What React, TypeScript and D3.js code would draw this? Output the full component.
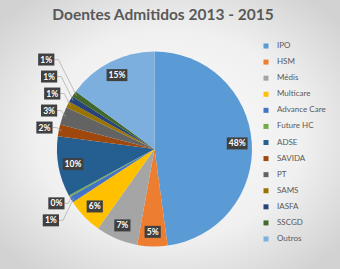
import React from 'react';
import * as d3 from 'd3';

const categories = ['IPO', 'HSM', 'Médis', 'Multicare', 'Advance Care', 'Future HC', 'ADSE', 'SAVIDA', 'PT', 'SAMS', 'IASFA', 'SSCGD', 'Outros'];
const shares = [48, 5, 7, 6, 1, 0.3, 10, 2, 3, 1, 1, 1, 15];
const colors = ['#5B9BD5', '#ED7D31', '#A5A5A5', '#FFC000', '#4472C4', '#70AD47', '#255E91', '#9E480E', '#636363', '#997300', '#264478', '#43682B', '#7CAFDD'];
const title = 'Doentes Admitidos 2013 - 2015';

const W = 340;
const H = 269;

const App = () => {
  const cx = 154.5;
  const cy = 149;
  const r = 97.5;
  const total = d3.sum(shares);
  const pct = (v: number) => Math.round((v / total) * 100);

  const arcs = d3.pie<number>().sort(null).value(d => d)(shares);
  const arc = d3.arc<d3.PieArcDatum<number>>().innerRadius(0).outerRadius(r);
  const inLabel = d3.arc<d3.PieArcDatum<number>>().innerRadius(r * 0.85).outerRadius(r * 0.85);
  const outLabel = d3.arc<d3.PieArcDatum<number>>().innerRadius(r * 1.15).outerRadius(r * 1.15);
  const rim = d3.arc<d3.PieArcDatum<number>>().innerRadius(r * 0.97).outerRadius(r * 0.97);

  const gap = 17;
  const labels = arcs.map((a, i) => {
    const small = pct(a.data) < 4;
    const [x, y] = (small ? outLabel : inLabel).centroid(a);
    return { i, small, x, y, baseX: x, baseY: y };
  });

  // outside labels: upper half pushed up, lower half pushed down
  const upper = labels.filter(l => l.small && l.baseY < 0).sort((a, b) => b.baseY - a.baseY);
  upper.forEach((l, k) => {
    if (k > 0) l.y = Math.min(l.baseY, upper[k - 1].y - gap);
  });
  const lower = labels.filter(l => l.small && l.baseY >= 0).sort((a, b) => a.baseY - b.baseY);
  lower.forEach((l, k) => {
    if (k > 0) l.y = Math.max(l.baseY, lower[k - 1].y + gap);
  });
  labels.forEach(l => {
    if (l.small) l.x = l.baseX - 0.6 * Math.abs(l.y - l.baseY);
  });

  const boxW = (t: string) => t.length * 4.6 + 7;
  const legendY = d3.scalePoint<string>().domain(categories).range([46, 239]);

  return (
    <svg width={W} height={H} style={{ position: 'absolute', left: 0, top: 0 }} fontFamily="Lato, 'Open Sans', sans-serif">
      <defs>
        <radialGradient id="bg" cx="50%" cy="50%" r="65%">
          <stop offset="0%" stopColor="#fbfbfb" />
          <stop offset="60%" stopColor="#f0f0f0" />
          <stop offset="100%" stopColor="#d2d2d2" />
        </radialGradient>
      </defs>
      <rect width={W} height={H} fill="url(#bg)" />
      <text x={163} y={20} textAnchor="middle" fontSize={15.5} fontWeight="bold" fill="#595959">{title}</text>

      <g transform={`translate(${cx},${cy})`}>
        {arcs.map((a, i) => (
          <path key={i} d={arc(a) || ''} fill={colors[i]} />
        ))}
        {labels.filter(l => l.small).map(l => {
          const [px, py] = rim.centroid(arcs[l.i]);
          const bw = boxW(`${pct(shares[l.i])}%`);
          return (
            <polyline key={`ld${l.i}`} points={`${l.x + bw / 2},${l.y} ${l.x + bw / 2 + 4},${l.y} ${px},${py}`} fill="none" stroke="#a6a6a6" strokeWidth={0.7} />
          );
        })}
        {labels.map(l => {
          const txt = `${pct(shares[l.i])}%`;
          const bw = boxW(txt);
          return (
            <g key={`lb${l.i}`} transform={`translate(${l.x},${l.y})`}>
              <rect x={-bw / 2} y={-6} width={bw} height={12} fill="#404040" />
              <text y={3} textAnchor="middle" fontSize={8.5} fontWeight="bold" fill="#ffffff">{txt}</text>
            </g>
          );
        })}
      </g>

      <g>
        {categories.map((c, i) => (
          <g key={c} transform={`translate(266,${legendY(c)})`}>
            <rect x={-2.5} y={-2.5} width={5} height={5} fill={colors[i]} />
            <text x={11} y={2} fontSize={8} fill="#595959">{c}</text>
          </g>
        ))}
      </g>
    </svg>
  );
};

export default App;
